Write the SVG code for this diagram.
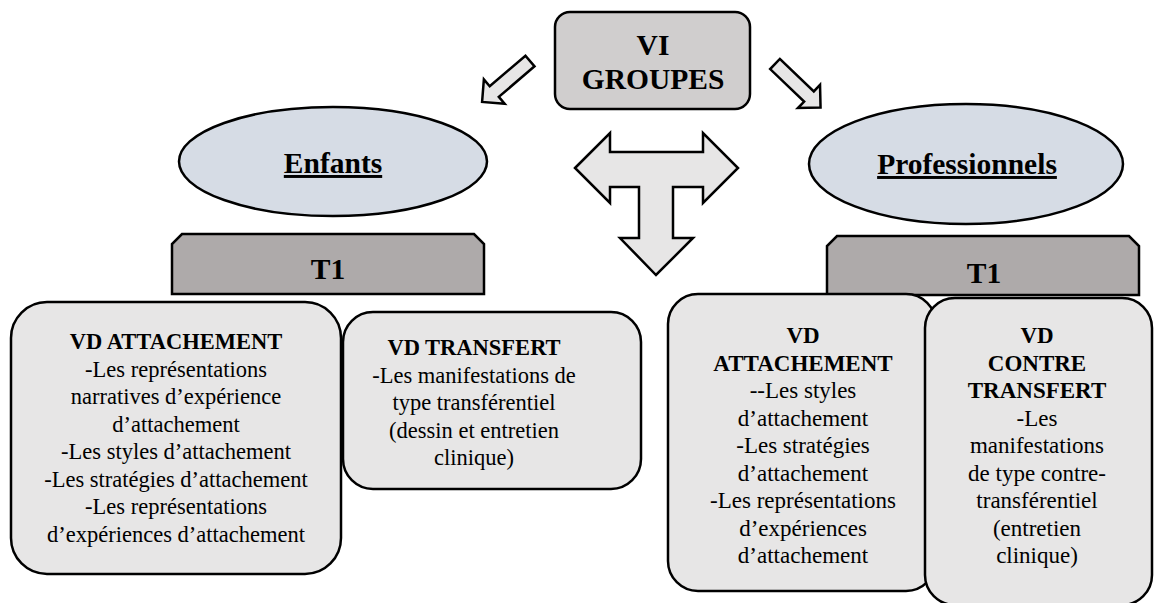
<svg xmlns="http://www.w3.org/2000/svg" width="1154" height="603" viewBox="0 0 1154 603" font-family="'Liberation Serif', 'DejaVu Serif', serif">
<style>
  text { font-family: "Liberation Serif", "DejaVu Serif", serif; fill: #000; text-anchor: middle; }
  .h { font-weight: bold; font-size: 29.5px; }
  .b { font-weight: bold; font-size: 22.5px; }
  .t { font-size: 22.5px; }
  .b2 { font-weight: bold; font-size: 23px; }
  .t2 { font-size: 23px; }
  .u { text-decoration: underline; }
  .stroke { stroke: #000; stroke-width: 2.5; stroke-linejoin: miter; }
  .vi { fill: #d0cece; }
  .ell { fill: #d6dce5; }
  .t1 { fill: #aeaaaa; }
  .vd { fill: #e7e6e6; }
  .arr { fill: #e7e6e6; stroke: #000; stroke-width: 2.5; stroke-linejoin: miter; }
</style>
<defs>
  <polygon id="blockArrow" points="0,-7 47,-7 47,-16 63,0 47,16 47,7 0,7"/>
</defs>
<rect width="1154" height="603" fill="#fff"/>

<g id="connectors">
  <use href="#blockArrow" class="arr" transform="translate(530,61) rotate(139.5)"/>
  <use href="#blockArrow" class="arr" transform="translate(775,64) rotate(43.7)"/>
  <polygon class="arr" points="575,168 610,133 610,152 703,152 703,133 738,168 703,203 703,187 673,187 673,238 693,238 656,275 620,238 639,238 639,187 610,187 610,203"/>
</g>

<g id="vi-groupes">
  <rect class="vi stroke" x="555" y="12" width="195" height="97" rx="15"/>
  <text class="h" x="653" y="55">VI</text>
  <text class="h" x="653" y="89">GROUPES</text>
</g>

<g id="enfants">
  <ellipse class="ell stroke" cx="333" cy="161.5" rx="154" ry="54.5"/>
  <text class="h u" x="333" y="173">Enfants</text>
</g>

<g id="professionnels">
  <ellipse class="ell stroke" cx="966" cy="164" rx="157" ry="60"/>
  <text class="h u" x="967" y="174">Professionnels</text>
</g>

<g id="t1-enfants">
  <path class="t1 stroke" d="M172,294 V244 L182,234 H474 L484,244 V294 Z"/>
  <text class="h" x="328" y="279">T1</text>
</g>

<g id="t1-professionnels">
  <path class="t1 stroke" d="M827,295 V246 L837,236 H1129 L1139,246 V295 Z"/>
  <text class="h" x="984" y="283">T1</text>
</g>

<g id="vd-attachement-enfants">
  <rect class="vd stroke" x="11" y="302" width="330" height="272" rx="36"/>
  <text class="b" x="176" y="349">VD ATTACHEMENT</text>
  <text class="t" x="176" y="376.5">-Les représentations</text>
  <text class="t" x="176" y="404">narratives d’expérience</text>
  <text class="t" x="176" y="431.5">d’attachement</text>
  <text class="t" x="176" y="459">-Les styles d’attachement</text>
  <text class="t" x="176" y="486.5">-Les stratégies d’attachement</text>
  <text class="t" x="176" y="514">-Les représentations</text>
  <text class="t" x="176" y="541.5">d’expériences d’attachement</text>
</g>

<g id="vd-transfert">
  <rect class="vd stroke" x="343" y="312" width="298" height="177" rx="30"/>
  <text class="b" x="474" y="355">VD TRANSFERT</text>
  <text class="t" x="474" y="382.5">-Les manifestations de</text>
  <text class="t" x="474" y="410">type transférentiel</text>
  <text class="t" x="474" y="437.5">(dessin et entretien</text>
  <text class="t" x="474" y="465">clinique)</text>
</g>

<g id="vd-attachement-pro">
  <rect class="vd stroke" x="668" y="294" width="268" height="297" rx="30"/>
  <text class="b2" x="803" y="343">VD</text>
  <text class="b2" x="803" y="370.5">ATTACHEMENT</text>
  <text class="t2" x="803" y="398">--Les styles</text>
  <text class="t2" x="803" y="425.5">d’attachement</text>
  <text class="t2" x="803" y="453">-Les stratégies</text>
  <text class="t2" x="803" y="480.5">d’attachement</text>
  <text class="t2" x="803" y="508">-Les représentations</text>
  <text class="t2" x="803" y="535.5">d’expériences</text>
  <text class="t2" x="803" y="563">d’attachement</text>
</g>

<g id="vd-contre-transfert">
  <rect class="vd stroke" x="925" y="298" width="227" height="307" rx="30"/>
  <text class="b2" x="1037" y="343">VD</text>
  <text class="b2" x="1037" y="370.5">CONTRE</text>
  <text class="b2" x="1037" y="398">TRANSFERT</text>
  <text class="t2" x="1037" y="425.5">-Les</text>
  <text class="t2" x="1037" y="453">manifestations</text>
  <text class="t2" x="1037" y="480.5">de type contre-</text>
  <text class="t2" x="1037" y="508">transférentiel</text>
  <text class="t2" x="1037" y="535.5">(entretien</text>
  <text class="t2" x="1037" y="563">clinique)</text>
</g>
</svg>
